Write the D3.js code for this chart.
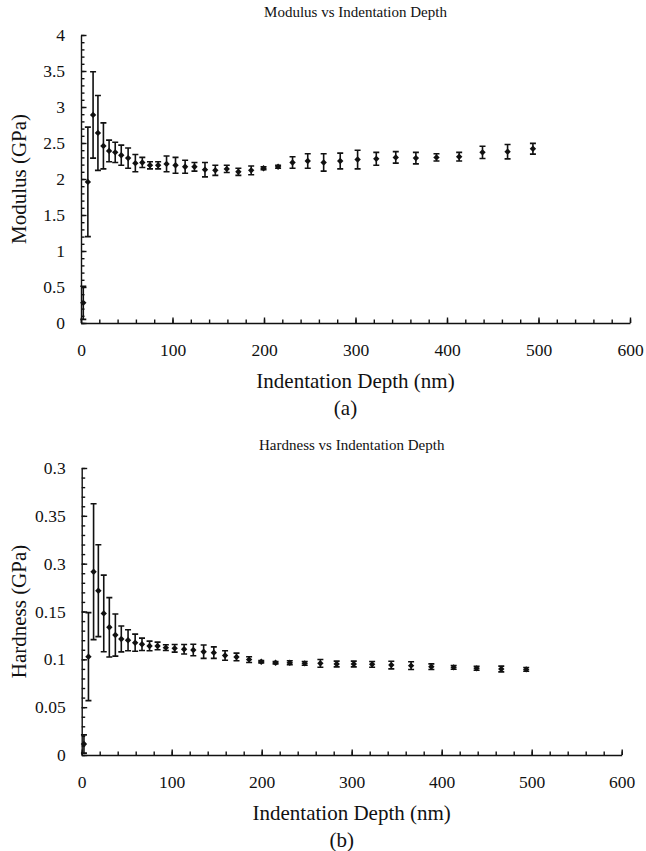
<!doctype html>
<html lang="en">
  <head>
    <meta charset="utf-8">
    <title>Modulus and Hardness vs Indentation Depth</title>
    <script src="https://d3js.org/d3.v7.min.js"></script>
    <style>
    body {
      margin: 0;
      background: #fff;
    }

    svg text {
      font-family: "Liberation Serif", "Times New Roman", "DejaVu Serif", serif !important;
      fill: #111;
    }

    .axis path, .axis line {
      stroke: #111;
      stroke-width: 1.4;
    }

    .bar {
      stroke: #111;
      stroke-width: 1.6;
      fill: none;
    }

    .dot {
      fill: #111;
    }
    </style>
  </head>

  <body>
    <svg width="646" height="851"></svg>

    <script>
      // depth of each indent step (nm), shared by both panels
      var depth = [2.5, 7.5, 13.2, 18.5, 24.5, 30.7, 37.4, 44, 51.5, 59.4, 67, 75.4, 84.3,
        93.5, 103.3, 113.8, 124, 135.5, 146.8, 159.3, 172, 186, 199.5, 215.4, 231.2,
        247.8, 265.2, 283.3, 302.3, 322.7, 344, 366, 388.5, 413.3, 438.8, 466.2, 493.9];

      var modulus = [0.28, 1.96, 2.89, 2.64, 2.46, 2.39, 2.37, 2.33, 2.29, 2.22, 2.23, 2.19,
        2.19, 2.21, 2.19, 2.17, 2.17, 2.13, 2.12, 2.14, 2.10, 2.12, 2.15, 2.17, 2.23, 2.25,
        2.23, 2.25, 2.27, 2.28, 2.30, 2.29, 2.30, 2.31, 2.37, 2.38, 2.42];
      var modulusErr = [0.23, 0.76, 0.6, 0.52, 0.32, 0.15, 0.14, 0.14, 0.14, 0.12, 0.07, 0.05,
        0.05, 0.11, 0.11, 0.09, 0.06, 0.1, 0.07, 0.05, 0.05, 0.06, 0.02, 0.02, 0.08, 0.1,
        0.12, 0.11, 0.13, 0.09, 0.08, 0.08, 0.05, 0.06, 0.085, 0.1, 0.075];

      var hardness = [0.0115, 0.1028, 0.1916, 0.1717, 0.148, 0.1335, 0.1254, 0.1213, 0.120,
        0.1174, 0.1157, 0.114, 0.114, 0.1122, 0.1115, 0.1105, 0.1098, 0.108, 0.107, 0.104,
        0.1025, 0.0997, 0.0975, 0.0965, 0.0965, 0.0958, 0.0958, 0.0951, 0.0951, 0.0948,
        0.094, 0.0934, 0.0923, 0.0916, 0.0906, 0.0899, 0.0895];
      var hardnessErr = [0.0095, 0.046, 0.071, 0.048, 0.04, 0.031, 0.022, 0.0135, 0.011,
        0.009, 0.0065, 0.005, 0.004, 0.003, 0.004, 0.005, 0.006, 0.007, 0.006, 0.005, 0.004,
        0.003, 0.0012, 0.0012, 0.002, 0.002, 0.004, 0.003, 0.003, 0.003, 0.004, 0.004,
        0.003, 0.002, 0.002, 0.003, 0.002];

      var depthTicks = [0, 100, 200, 300, 400, 500, 600];
      var modulusTicks = [0, 0.5, 1, 1.5, 2, 2.5, 3, 3.5, 4];
      var hardnessTicks = [0, 0.05, 0.1, 0.15, 0.2, 0.25, 0.3];
      // labels exactly as printed on the original hardness axis
      var hardnessTickLabels = ['0', '0.05', '0.1', '0.15', '0.3', '0.35', '0.3'];

      var serif = '"Liberation Serif", "Times New Roman", "DejaVu Serif", serif';
      var svg = d3.select('svg');

      var drawPanel = function(p){
        var x = d3.scaleLinear().domain([0, 600]).range([p.left, p.right]);
        var y = d3.scaleLinear().domain([0, p.yMax]).range([p.bottom, p.top]);

        // minor ticks first, then the major ones on top
        svg.append('g')
          .attr('class', 'axis')
          .attr('transform', 'translate(0,' + p.bottom + ')')
          .call(d3.axisBottom(x).tickValues(d3.range(0, 601, 20)).tickSize(-3.5).tickFormat(''))
          .select('.domain').remove();

        svg.append('g')
          .attr('class', 'axis')
          .attr('transform', 'translate(' + p.left + ',0)')
          .call(d3.axisLeft(y).tickValues(d3.range(0, p.yMax + p.minor / 2, p.minor)).tickSize(-3.5).tickFormat(''))
          .select('.domain').remove();

        var xAxis = svg.append('g')
          .attr('class', 'axis')
          .attr('font-family', serif)
          .attr('transform', 'translate(0,' + p.bottom + ')')
          .call(d3.axisBottom(x).tickValues(depthTicks).tickSizeInner(-5.5).tickSizeOuter(0).tickPadding(21));
        xAxis.attr('font-family', serif);
        xAxis.selectAll('text').style('font-size', '17.5px');

        var yAxis = svg.append('g')
          .attr('class', 'axis')
          .attr('transform', 'translate(' + p.left + ',0)')
          .call(d3.axisLeft(y).tickValues(p.ticks).tickSizeInner(-5.5).tickSizeOuter(0).tickPadding(16)
            .tickFormat(function(d, i){ return p.labels[i]; }));
        yAxis.attr('font-family', serif);
        yAxis.selectAll('text').style('font-size', '17.5px');

        // error bars
        var bars = svg.append('g').selectAll('g')
          .data(depth.map(function(d, i){ return {x: d, v: p.values[i], e: p.errors[i]}; }))
          .enter()
          .append('g');

        bars.append('path')
          .attr('class', 'bar')
          .attr('d', function(d){
            var cx = x(d.x), y0 = y(d.v - d.e), y1 = y(d.v + d.e);
            return 'M' + cx + ',' + y0 + 'V' + y1 +
              'M' + (cx - 3) + ',' + y0 + 'H' + (cx + 3) +
              'M' + (cx - 3) + ',' + y1 + 'H' + (cx + 3);
          });

        bars.append('path')
          .attr('class', 'dot')
          .attr('transform', function(d){ return 'translate(' + x(d.x) + ',' + y(d.v) + ')'; })
          .attr('d', 'M0,-3.2L3.2,0L0,3.2L-3.2,0Z');

        // titles
        var mid = (p.left + p.right) / 2;
        svg.append('text')
          .attr('x', mid).attr('y', p.top - 18)
          .attr('text-anchor', 'middle')
          .style('font-family', serif)
          .style('font-size', '15px')
          .text(p.title);

        svg.append('text')
          .attr('transform', 'translate(26,' + (p.top + p.bottom) / 2 + ') rotate(-90)')
          .attr('text-anchor', 'middle')
          .style('font-family', serif)
          .style('font-size', '21px')
          .text(p.yTitle);

        svg.append('text')
          .attr('x', mid).attr('y', p.bottom + 65)
          .attr('text-anchor', 'middle')
          .style('font-family', serif)
          .style('font-size', '21px')
          .text('Indentation Depth (nm)');

        svg.append('text')
          .attr('x', mid - 10).attr('y', p.bottom + 92)
          .attr('text-anchor', 'middle')
          .style('font-family', serif)
          .style('font-size', '21px')
          .text(p.tag);
      };

      drawPanel({
        left: 81, right: 630, top: 35, bottom: 323,
        yMax: 4, minor: 0.1, ticks: modulusTicks,
        labels: modulusTicks.map(String),
        values: modulus, errors: modulusErr,
        title: 'Modulus vs Indentation Depth', yTitle: 'Modulus (GPa)', tag: '(a)'
      });

      drawPanel({
        left: 81.7, right: 621.7, top: 468, bottom: 755,
        yMax: 0.3, minor: 0.01, ticks: hardnessTicks,
        labels: hardnessTickLabels,
        values: hardness, errors: hardnessErr,
        title: 'Hardness vs Indentation Depth', yTitle: 'Hardness (GPa)', tag: '(b)'
      });
    </script>
  </body>
</html>
